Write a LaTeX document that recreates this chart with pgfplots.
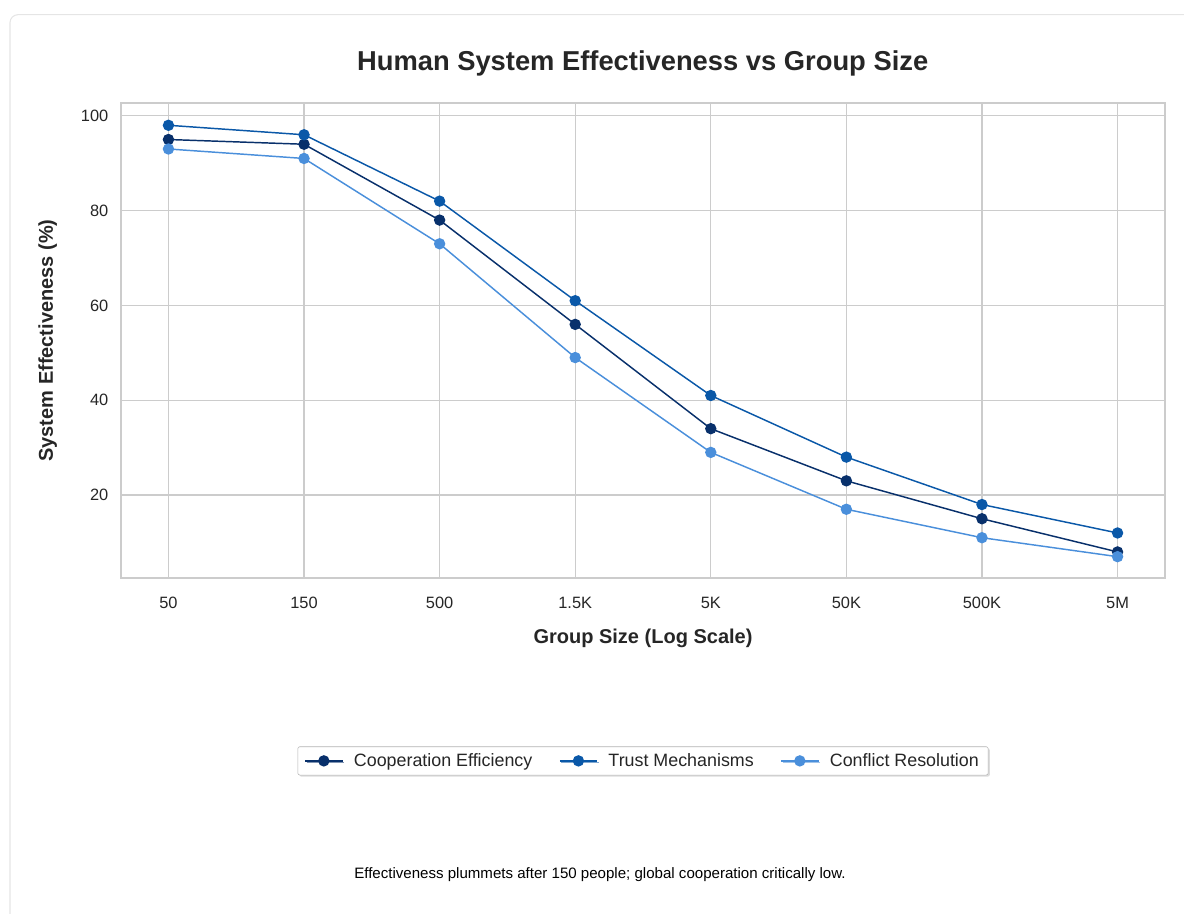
\documentclass[border=0pt]{standalone}
\usepackage{fontspec}
\setmainfont{Liberation Sans}
\usepackage{pgfplots}
\pgfplotsset{compat=1.18}
\usetikzlibrary{shadows}

\definecolor{coop}{HTML}{08306B}
\definecolor{trust}{HTML}{0A58A8}
\definecolor{confl}{HTML}{4A8FDB}
\definecolor{gridc}{HTML}{CCCCCC}
\definecolor{txt}{HTML}{262626}

\begin{document}
\begin{tikzpicture}
\useasboundingbox (0,0) rectangle (888pt,-684.75pt);
\begin{scope}
\clip (0,0) rectangle (888pt,-684.75pt);
\draw[gray!20, line width=0.8pt, rounded corners=6pt] (7.5pt,-11pt) rectangle (900pt,-700pt);
\end{scope}

\node[font=\fontsize{20.5}{24}\selectfont\bfseries, text=txt] at (482pt,-47.5pt) {Human System Effectiveness vs Group Size};

\begin{axis}[
  at={(90.75pt,-433.5pt)}, anchor=south west,
  scale only axis, width=783pt, height=356.25pt,
  xmin=-0.35, xmax=7.35, ymin=2.5, ymax=102.7,
  xtick={0,1,2,3,4,5,6,7},
  xticklabels={50,150,500,1.5K,5K,50K,500K,5M},
  ytick={20,40,60,80,100},
  major tick length=0pt,
  xmajorgrids, ymajorgrids,
  grid style={gridc, line width=1.0pt},
  axis line style={gridc, line width=1.4pt},
  /pgf/number format/assume math mode=true,
  tick label style={font=\fontsize{12.3}{14}\selectfont, text=txt},
  yticklabel style={xshift=-6pt},
  xticklabel style={yshift=-11pt},
  xlabel={Group Size (Log Scale)},
  ylabel={System Effectiveness (\%)},
  label style={font=\fontsize{15}{18}\selectfont\bfseries, text=txt},
  xlabel style={yshift=-8pt},
  ylabel style={yshift=11pt},
  legend columns=3,
  legend style={at={(0.5,-0.385)}, anchor=center, draw=gray!60, rounded corners=1.5pt,
    font=\fontsize{13.4}{16}\selectfont, text=txt, inner xsep=5pt, inner ysep=3pt,
    drop shadow={shadow xshift=1.2pt, shadow yshift=-1.2pt, fill=gray!55},
    /tikz/every odd column/.append style={column sep=6pt},
    /tikz/every even column/.append style={column sep=18pt}},
  legend image code/.code={
    \draw[#1] (0pt,0pt) -- (28pt,0pt);
    \draw[#1, mark repeat=1] plot coordinates {(14pt,0pt)};
  },
  every axis plot/.append style={line width=1.1pt, mark=*, mark size=3.7pt,
    mark options={draw=white, line width=0.4pt}},
]
\addplot[coop, mark options={fill=coop}] coordinates {(0,95) (1,94) (2,78) (3,56) (4,34) (5,23) (6,15) (7,8)};
\addlegendentry{Cooperation Efficiency}
\addplot[trust, mark options={fill=trust}] coordinates {(0,98) (1,96) (2,82) (3,61) (4,41) (5,28) (6,18) (7,12)};
\addlegendentry{Trust Mechanisms}
\addplot[confl, mark options={fill=confl}] coordinates {(0,93) (1,91) (2,73) (3,49) (4,29) (5,17) (6,11) (7,7)};
\addlegendentry{Conflict Resolution}
\end{axis}

\node[font=\fontsize{11.3}{13}\selectfont, text=black] at (450pt,-656.25pt) {Effectiveness plummets after 150 people; global cooperation critically low.};
\end{tikzpicture}
\end{document}
